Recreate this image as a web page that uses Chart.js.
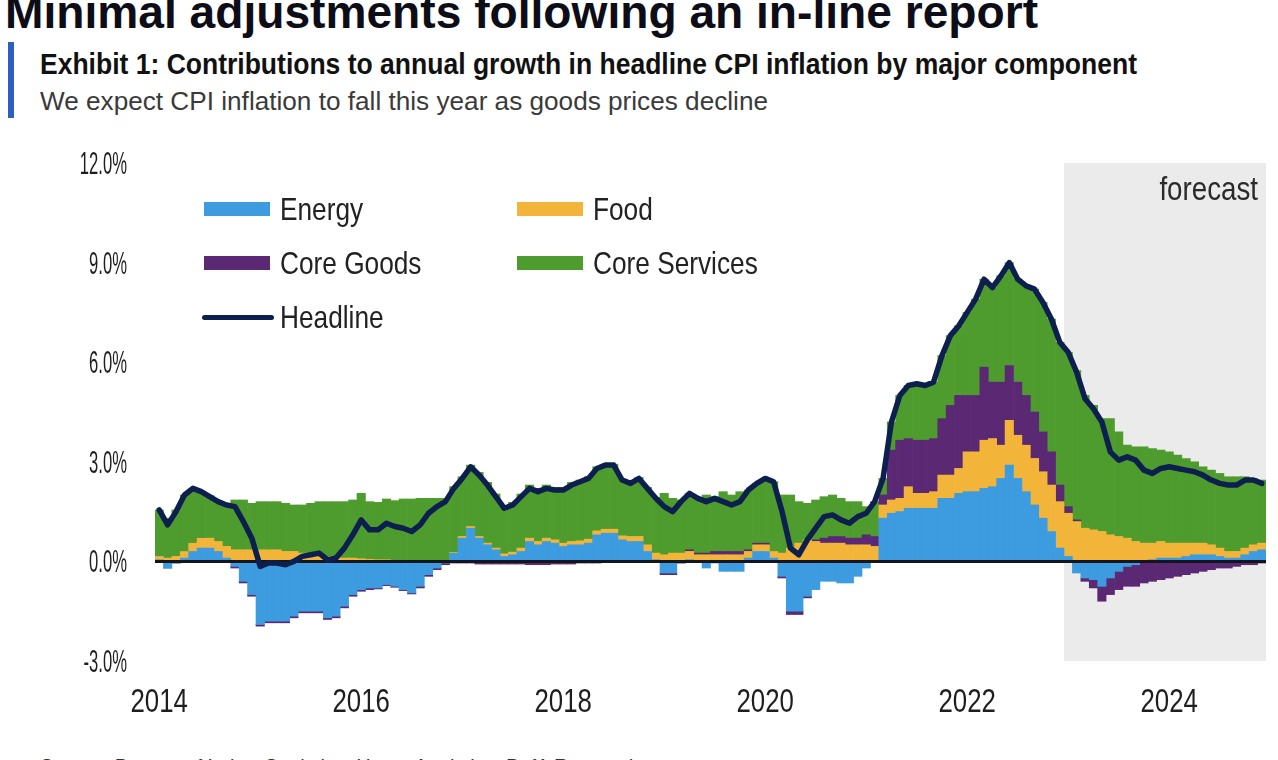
<!DOCTYPE html>
<html>
<head>
<meta charset="utf-8">
<script src="https://cdn.jsdelivr.net/npm/chart.js@4.4.1/dist/chart.umd.min.js"></script>
<style>
  html, body { margin: 0; padding: 0; background: #fff; }
  body { width: 1278px; height: 760px; position: relative; overflow: hidden;
         font-family: "Liberation Sans", Arial, sans-serif; color: #1a1a1a; }
  .t { position: absolute; white-space: nowrap; line-height: 1; transform-origin: 0 0; }
  #title { left: 5px; top: -11px; font-size: 46px; font-weight: bold; color: #0d0d18; }
  #bar { position: absolute; left: 8px; top: 42px; width: 6px; height: 76px; background: #2b5fc0; }
  #exhibit { left: 40px; top: 50px; font-size: 29px; font-weight: bold; color: #111; }
  #sub { left: 40px; top: 88px; font-size: 26.5px; color: #3a3a3a; }
  #source { left: 40px; top: 756px; font-size: 24px; color: #333; }
  #chart { position: absolute; left: 0; top: 130px; }
  .sw { position: absolute; height: 14px; width: 66px; }
  .ln { position: absolute; height: 5px; width: 72px; border-radius: 3px; }
  .lt { position: absolute; font-size: 32px; line-height: 32px; height: 32px; color: #222;
        white-space: nowrap; transform-origin: 0 50%; transform: scaleX(0.82); }
</style>
</head>
<body>
<div id="title" class="t">Minimal adjustments following an in-line report</div>
<div id="bar"></div>
<div id="exhibit" class="t">Exhibit 1: Contributions to annual growth in headline CPI inflation by major component</div>
<div id="sub" class="t">We expect CPI inflation to fall this year as goods prices decline</div>
<div id="source" class="t">Source: Bureau of Labor Statistics, Haver Analytics, BofA Research</div>
<canvas id="chart" width="1278" height="630"></canvas>
<div id="legend"></div>
<script>
// monthly, Jan 2014 - Dec 2024, percentage points
const years = ['2014', '2015', '2016', '2017', '2018', '2019', '2020', '2021', '2022', '2023', '2024'];
const months = [];
years.forEach(y => { for (let m = 1; m <= 12; m++) months.push(y + '-' + String(m).padStart(2, '0')); });

const xTickYears = ['2014', '2016', '2018', '2020', '2022', '2024'];
const forecastStart = '2023-01';

const energy = [
  0.05, -0.2, -0.05, 0.1, 0.3, 0.4, 0.4, 0.3, 0.1, -0.15, -0.6, -1.0,
  -1.9, -1.8, -1.8, -1.8, -1.65, -1.5, -1.5, -1.5, -1.7, -1.65, -1.35, -1.0,
  -0.85, -0.8, -0.8, -0.7, -0.75, -0.85, -0.95, -0.75, -0.4, -0.2, -0.05, 0.25,
  0.7, 1.0, 0.7, 0.5, 0.35, 0.15, 0.2, 0.3, 0.6, 0.5, 0.6, 0.55,
  0.45, 0.5, 0.5, 0.55, 0.8, 0.85, 0.85, 0.65, 0.6, 0.6, 0.3, 0.05,
  -0.35, -0.35, -0.05, 0.05, 0.0, -0.2, -0.05, -0.3, -0.3, -0.3, 0.1, 0.3,
  0.3, 0.1, -0.45, -1.5, -1.5, -1.05, -0.85, -0.6, -0.6, -0.65, -0.65, -0.45,
  -0.2, 0.0, 1.3, 1.45, 1.5, 1.6, 1.6, 1.6, 1.6, 1.9, 1.9, 2.05,
  2.1, 2.1, 2.2, 2.25, 2.5, 2.9, 2.5, 2.1, 1.7, 1.3, 0.9, 0.4,
  0.15, -0.35, -0.5, -0.55, -0.75, -0.5, -0.3, -0.15, -0.1, 0.0, 0.05, 0.1,
  0.1, 0.1, 0.15, 0.2, 0.2, 0.2, 0.15, 0.1, 0.1, 0.2, 0.3, 0.35
];
const food = [
  0.1, 0.1, 0.15, 0.2, 0.25, 0.3, 0.3, 0.3, 0.35, 0.35, 0.35, 0.35,
  0.35, 0.35, 0.35, 0.3, 0.3, 0.25, 0.25, 0.2, 0.15, 0.15, 0.1, 0.1,
  0.08, 0.06, 0.05, 0.05, 0.03, 0.02, 0.02, 0.02, 0.02, 0.02, 0.02, 0.02,
  0.05, 0.05, 0.05, 0.05, 0.05, 0.08, 0.08, 0.1, 0.1, 0.1, 0.1, 0.1,
  0.1, 0.1, 0.12, 0.12, 0.12, 0.12, 0.12, 0.12, 0.15, 0.15, 0.2, 0.2,
  0.2, 0.25, 0.25, 0.25, 0.2, 0.2, 0.2, 0.2, 0.2, 0.2, 0.2, 0.2,
  0.2, 0.2, 0.25, 0.4, 0.55, 0.65, 0.6, 0.55, 0.55, 0.55, 0.5, 0.5,
  0.5, 0.45, 0.4, 0.4, 0.4, 0.65, 0.45, 0.45, 0.5, 0.7, 0.7, 0.75,
  1.2, 1.2, 1.45, 1.45, 1.0, 1.35, 1.3, 1.4, 1.4, 1.4, 1.4, 1.4,
  1.3, 1.2, 1.0, 0.95, 0.9, 0.8, 0.75, 0.7, 0.6, 0.55, 0.5, 0.5,
  0.45, 0.45, 0.4, 0.35, 0.35, 0.3, 0.25, 0.2, 0.2, 0.2, 0.2, 0.2
];
const coreGoods = [
  0, 0, 0, 0, 0, 0, -0.03, -0.03, -0.03, -0.05, -0.05, -0.05,
  -0.05, -0.05, -0.05, -0.05, -0.05, -0.05, -0.05, -0.05, -0.05, -0.05, -0.05, -0.05,
  -0.05, -0.05, -0.03, -0.03, -0.03, -0.03, -0.03, -0.05, -0.05, -0.05, -0.05, -0.05,
  -0.05, -0.05, -0.08, -0.08, -0.08, -0.08, -0.08, -0.08, -0.1, -0.1, -0.1, -0.08,
  -0.08, -0.08, -0.05, -0.05, -0.05, -0.03, -0.03, -0.03, -0.03, -0.03, -0.03, -0.03,
  -0.05, -0.05, 0, 0.05, 0.05, 0.05, 0.1, 0.1, 0.1, 0.1, 0.05, 0.05,
  0.05, 0, -0.05, -0.1, -0.1, -0.05, 0.05, 0.15, 0.2, 0.2, 0.2, 0.2,
  0.3, 0.3, 0.3, 1.5, 1.75, 1.45, 1.6, 1.6, 1.6, 1.7, 2.1, 2.2,
  1.7, 1.7, 2.2, 1.7, 1.9, 1.65, 1.6, 1.5, 1.4, 1.2, 1.0, 0.5,
  0.2, 0.05, -0.1, -0.25, -0.45, -0.5, -0.55, -0.6, -0.65, -0.65, -0.6, -0.55,
  -0.5, -0.45, -0.4, -0.35, -0.3, -0.25, -0.2, -0.2, -0.15, -0.1, -0.1, -0.05
];
const coreServices = [
  1.4, 1.2, 1.4, 1.7, 1.65, 1.4, 1.28, 1.23, 1.28, 1.5, 1.5, 1.4,
  1.45, 1.45, 1.45, 1.45, 1.4, 1.45, 1.5, 1.6, 1.65, 1.65, 1.7, 1.75,
  1.97, 1.74, 1.73, 1.83, 1.8, 1.86, 1.86, 1.88, 1.88, 1.88, 1.88, 1.98,
  1.8, 1.85, 1.93, 1.83, 1.63, 1.45, 1.5, 1.63, 1.6, 1.6, 1.6, 1.58,
  1.68, 1.78, 1.83, 1.88, 1.93, 1.96, 1.96, 1.71, 1.63, 1.78, 1.73, 1.68,
  1.85, 1.65, 1.6, 1.7, 1.65, 1.75, 1.65, 1.8, 1.7, 1.8, 1.8, 1.8,
  1.95, 2.1, 1.75, 1.6, 1.25, 1.1, 1.2, 1.25, 1.25, 1.15, 1.1, 1.1,
  0.85, 1.05, 0.5, 0.85, 1.35, 1.6, 1.7, 1.65, 1.7, 1.9, 2.1, 2.1,
  2.5, 2.9, 2.65, 2.85, 3.2, 3.1, 3.1, 3.3, 3.7, 3.9, 4.0, 4.3,
  4.65, 4.5, 4.0, 3.75, 3.4, 3.5, 3.15, 2.8, 2.85, 2.9, 2.85, 2.75,
  2.75, 2.65, 2.55, 2.45, 2.3, 2.25, 2.25, 2.25, 2.25, 2.15, 2.0, 1.9
];
const headline = [
  1.55, 1.1, 1.5, 2.0, 2.2, 2.1, 1.95, 1.8, 1.7, 1.65, 1.2, 0.7,
  -0.15, -0.05, -0.05, -0.1, 0.0, 0.15, 0.2, 0.25, 0.05, 0.1, 0.4, 0.8,
  1.25, 0.95, 0.95, 1.15, 1.05, 1.0, 0.9, 1.1, 1.45, 1.65, 1.8, 2.2,
  2.5, 2.85, 2.6, 2.3, 1.95, 1.6, 1.7, 1.95, 2.2, 2.1, 2.2, 2.15,
  2.15, 2.3, 2.4, 2.5, 2.8, 2.9, 2.9, 2.45, 2.35, 2.5, 2.2, 1.9,
  1.65, 1.5, 1.8, 2.05, 1.9, 1.8, 1.9, 1.8, 1.7, 1.8, 2.15, 2.35,
  2.5, 2.4, 1.5, 0.4, 0.2, 0.65, 1.0, 1.35, 1.4, 1.25, 1.15, 1.35,
  1.45, 1.8, 2.5, 4.2, 5.0, 5.3, 5.35, 5.3, 5.4, 6.2, 6.8, 7.1,
  7.5, 7.9, 8.5, 8.25, 8.6, 9.0, 8.5, 8.3, 8.2, 7.8, 7.3, 6.6,
  6.3, 5.7, 4.9, 4.6, 4.2, 3.3, 3.05, 3.15, 3.05, 2.75, 2.65, 2.8,
  2.85, 2.8, 2.75, 2.7, 2.6, 2.45, 2.35, 2.3, 2.3, 2.45, 2.45, 2.35
];

const names = ['Energy', 'Food', 'Core Goods', 'Core Services', 'Headline'];
const colors = ['#3d9be0', '#f2b53a', '#5b2873', '#4e9c2d', '#0c1f4f'];

const FONT = '"Liberation Sans", Arial, sans-serif';

// page texts: squeeze to the widths seen in the picture
function fitWidth(id, w) {
  const el = document.getElementById(id);
  el.style.transform = 'scaleX(' + (w / el.getBoundingClientRect().width) + ')';
}
fitWidth('title', 1033);
fitWidth('exhibit', 1097);
fitWidth('sub', 728);
fitWidth('source', 600);

// legend, two columns inside the plot
const legendSpots = [[204, 209], [517, 209], [204, 263], [517, 263], [202, 317]];
const legend = document.getElementById('legend');
names.forEach((n, i) => {
  const [lx, ly] = legendSpots[i];
  const mark = document.createElement('div');
  const isLine = n === 'Headline';
  mark.className = isLine ? 'ln' : 'sw';
  mark.style.left = lx + 'px';
  mark.style.top = (ly - (isLine ? 2.5 : 7)) + 'px';
  mark.style.background = colors[i];
  legend.appendChild(mark);
  const txt = document.createElement('div');
  txt.className = 'lt';
  txt.textContent = n;
  txt.style.left = (lx + (isLine ? 78 : 76)) + 'px';
  txt.style.top = (ly - 16) + 'px';
  legend.appendChild(txt);
});

function squeezedText(ctx, s, px, py, align, sx) {
  ctx.save();
  ctx.translate(px, py);
  ctx.scale(sx, 1);
  ctx.textAlign = align;
  ctx.fillText(s, 0, 0);
  ctx.restore();
}

const extras = {
  id: 'extras',
  beforeDatasetsDraw(chart) {
    const { ctx, chartArea: a, scales: { x } } = chart;
    const i = months.indexOf(forecastStart);
    const half = (x.getPixelForValue(1) - x.getPixelForValue(0)) / 2;
    const left = x.getPixelForValue(i) - half;
    ctx.save();
    ctx.fillStyle = '#ebebeb';
    ctx.fillRect(left, a.top, a.right - left, a.bottom - a.top);
    ctx.fillStyle = '#2a2a2a';
    ctx.font = '33px ' + FONT;
    squeezedText(ctx, 'forecast', a.right - 8, a.top + 37, 'right', 0.84);
    ctx.restore();
  },
  beforeDatasetDraw(chart, args) {
    // zero line sits over the bars, under the headline
    if (chart.data.datasets[args.index].type !== 'line') return;
    const { ctx, chartArea: a, scales: { y } } = chart;
    const y0 = y.getPixelForValue(0);
    ctx.save();
    ctx.strokeStyle = '#14141c';
    ctx.lineWidth = 3;
    ctx.beginPath();
    ctx.moveTo(a.left, y0);
    ctx.lineTo(a.right, y0);
    ctx.stroke();
    ctx.restore();
  },
  afterDraw(chart) {
    const { ctx, scales: { x, y } } = chart;
    ctx.save();
    ctx.fillStyle = '#1e1e1e';
    ctx.font = '32px ' + FONT;
    y.ticks.forEach((t, i) => squeezedText(ctx, t.label, y.right - 28, y.getPixelForTick(i) + 11, 'right', 0.52));
    ctx.font = '34px ' + FONT;
    x.ticks.forEach((t, i) => {
      if (t.label) squeezedText(ctx, t.label, x.getPixelForTick(i), x.top + 51, 'center', 0.76);
    });
    ctx.restore();
  }
};

const components = [energy, food, coreGoods, coreServices];
const datasets = components.map((d, i) => ({
  type: 'bar',
  label: names[i],
  data: d,
  backgroundColor: colors[i],
  borderWidth: 0,
  barPercentage: 1,
  categoryPercentage: 1,
  stack: 'components'
}));
datasets.push({
  type: 'line',
  label: 'Headline',
  data: headline,
  borderColor: colors[4],
  borderWidth: 5.5,
  pointRadius: 0,
  tension: 0,
  borderJoinStyle: 'round',
  borderCapStyle: 'round',
  stack: 'headline',
  order: -1
});

new Chart(document.getElementById('chart'), {
  data: { labels: months, datasets },
  options: {
    responsive: false,
    animation: false,
    layout: { padding: { top: 33, right: 12, left: 0, bottom: 0 } },
    plugins: { legend: { display: false }, tooltip: { enabled: false } },
    scales: {
      x: {
        stacked: true,
        grid: { display: false },
        border: { display: false },
        ticks: {
          display: false,
          autoSkip: false,
          callback: (v, i) => {
            const m = months[i];
            return m.endsWith('-01') && xTickYears.includes(m.slice(0, 4)) ? m.slice(0, 4) : '';
          }
        },
        afterFit: s => { s.height = 99; }
      },
      y: {
        stacked: true,
        min: -3,
        max: 12,
        grid: { display: false },
        border: { display: false },
        ticks: { display: false, stepSize: 3, callback: v => v.toFixed(1) + '%' },
        afterFit: s => { s.width = 155; }
      }
    }
  },
  plugins: [extras]
});
</script>
</body>
</html>
